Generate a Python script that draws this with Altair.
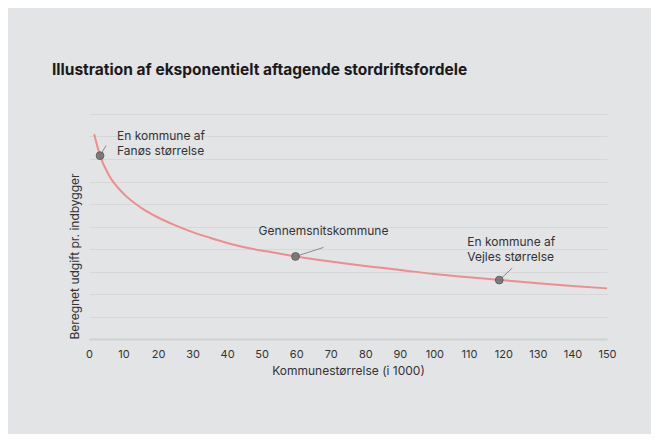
import altair as alt
import pandas as pd

# curve values
curve_x = [1.5, 3.2, 6, 10, 15, 20, 25, 30, 35, 40, 45, 50, 55, 60, 70, 80, 90, 100, 110, 120, 130, 140, 150]
curve_y = [9.10, 8.15, 7.22, 6.46, 5.84, 5.40, 5.05, 4.75, 4.50, 4.27, 4.08, 3.93, 3.80, 3.67, 3.44, 3.24, 3.07, 2.89, 2.74, 2.61, 2.48, 2.36, 2.25]

# highlighted municipalities
point_x = [3.2, 59.8, 118.8]
point_y = [8.15, 3.67, 2.62]
point_label = ["En kommune af\nFanøs størrelse", "Gennemsnitskommune", "En kommune af\nVejles størrelse"]

x_ticks = list(range(0, 151, 10))
y_grid = list(range(0, 11))

curve = pd.DataFrame({"x": curve_x, "y": curve_y})
points = pd.DataFrame({"x": point_x, "y": point_y, "label": point_label})

FONT = "Inter"
TXT = "#333333"

xs = alt.Scale(domain=[0, 150], nice=False)
ys = alt.Scale(domain=[0, 10], nice=False)

x_axis = alt.Axis(values=x_ticks, ticks=False, domain=True, domainColor="#cfd0d2", domainWidth=2,
                  grid=False, labelFontSize=11, labelColor=TXT, labelFont=FONT, labelPadding=9,
                  labelOverlap=False, labelFlush=False,
                  title="Kommunestørrelse (i 1000)", titleFontSize=12, titleFont=FONT,
                  titleFontWeight="normal", titleColor=TXT, titlePadding=6)
y_axis = alt.Axis(values=y_grid, ticks=False, labels=False, domain=False, grid=True,
                  gridColor="#d6d7d9", gridWidth=1,
                  title="Beregnet udgift pr. indbygger", titleFontSize=12, titleFont=FONT,
                  titleFontWeight="normal", titleColor=TXT, titlePadding=8, titleAnchor="start")

X = alt.X("x:Q", scale=xs, axis=x_axis)
Y = alt.Y("y:Q", scale=ys, axis=y_axis)

line = alt.Chart(curve).mark_line(color="#f08c8e", strokeWidth=2, interpolate="monotone").encode(x=X, y=Y)

base_pts = alt.Chart(points)

leaders = []
offsets = [(6, -10), (28, -9), (13, -12)]
for lab, (ox, oy) in zip(point_label, offsets):
    leaders.append(
        base_pts.transform_filter(alt.datum.label == lab).transform_calculate(
            lx=f"datum.x + {ox} * 150 / 518",
            ly=f"datum.y - {oy} * 10 / 225",
        ).mark_rule(color="#8a8a8a", strokeWidth=1).encode(
            x=X, y=Y, x2=alt.X2("lx:Q"), y2=alt.Y2("ly:Q"),
        )
    )

dots = base_pts.mark_point(filled=True, size=60, color="#727272", opacity=0.9,
                           stroke="#555555", strokeWidth=1).encode(x=X, y=Y)

text_styles = [
    dict(align="left", dx=17, dy=-25),
    dict(align="center", dx=28, dy=-30),
    dict(align="left", dx=-32, dy=-43),
]
texts = []
for lab, st in zip(point_label, text_styles):
    texts.append(
        base_pts.transform_filter(alt.datum.label == lab).mark_text(
            baseline="top", fontSize=12, font=FONT, color=TXT, lineBreak="\n", lineHeight=15, **st
        ).encode(x=X, y=Y, text="label:N")
    )

chart = alt.layer(line, *leaders, dots, *texts).properties(
    width=518,
    height=225,
    title=alt.TitleParams(
        "Illustration af eksponentielt aftagende stordriftsfordele",
        anchor="start", frame="group", fontSize=15.5, font=FONT, fontWeight="bold",
        color="#1a1a1a", dx=-37, offset=36,
    ),
    background="#e3e4e6",
    padding={"left": 81, "top": 106, "right": 44, "bottom": 95},
    autosize=alt.AutoSizeParams(type="none"),
).configure_view(stroke=None)

chart.save("out.html", embed_options={"renderer": "svg", "actions": False})
